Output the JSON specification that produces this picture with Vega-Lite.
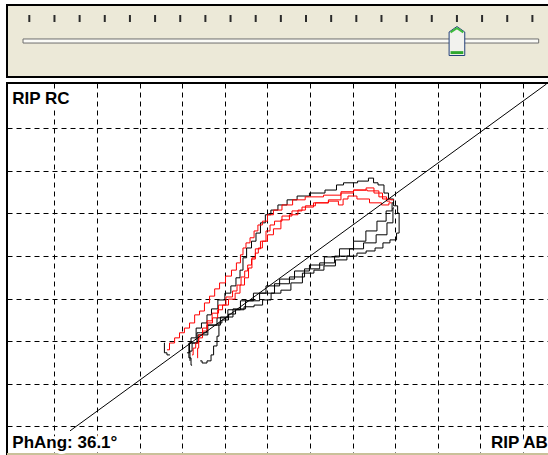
{
"$schema": "https://vega.github.io/schema/vega-lite/v6.json",
"background": "white",
"padding": {"left": 5, "top": 4, "right": 0, "bottom": 0},
"spacing": 4,
"config": {"view": {"stroke": null}, "font": "Liberation Sans"},
"datasets": {
"ticks": [{"pos":0},{"pos":1},{"pos":2},{"pos":3},{"pos":4},{"pos":5},{"pos":6},{"pos":7},{"pos":8},{"pos":9},{"pos":10},{"pos":11},{"pos":12},{"pos":13},{"pos":14},{"pos":15},{"pos":16},{"pos":17},{"pos":18},{"pos":19},{"pos":20}],
"loops": [
{"s":"D","x":2.59,"y":1.96},{"s":"D","x":2.57,"y":1.73},{"s":"D","x":2.71,"y":1.68},
{"s":"A","x":3.23,"y":1.44},{"s":"A","x":3.18,"y":1.61},{"s":"A","x":3.13,"y":1.96},{"s":"A","x":3.28,"y":2.08},{"s":"A","x":3.37,"y":2.31},{"s":"A","x":3.53,"y":2.43},{"s":"A","x":3.63,"y":2.62},{"s":"A","x":3.74,"y":2.76},{"s":"A","x":3.93,"y":2.97},{"s":"A","x":4.07,"y":3.13},{"s":"A","x":4.21,"y":3.30},{"s":"A","x":4.31,"y":3.49},{"s":"A","x":4.40,"y":3.67},{"s":"A","x":4.45,"y":3.96},{"s":"A","x":4.57,"y":4.19},{"s":"A","x":4.68,"y":4.35},{"s":"A","x":4.78,"y":4.54},{"s":"A","x":4.89,"y":4.78},{"s":"A","x":5.01,"y":4.97},{"s":"A","x":5.15,"y":5.08},{"s":"A","x":5.34,"y":5.20},{"s":"A","x":5.58,"y":5.32},{"s":"A","x":5.81,"y":5.41},{"s":"A","x":6.16,"y":5.48},{"s":"A","x":6.54,"y":5.55},{"s":"A","x":6.70,"y":5.67},{"s":"A","x":6.87,"y":5.72},{"s":"A","x":7.36,"y":5.76},{"s":"A","x":7.38,"y":5.83},{"s":"A","x":7.48,"y":5.83},{"s":"A","x":7.50,"y":5.72},{"s":"A","x":7.69,"y":5.67},{"s":"A","x":7.78,"y":5.48},{"s":"A","x":7.90,"y":5.34},{"s":"A","x":8.02,"y":5.18},{"s":"A","x":8.09,"y":5.01},{"s":"A","x":8.09,"y":4.54},{"s":"A","x":7.97,"y":4.38},{"s":"A","x":7.78,"y":4.31},{"s":"A","x":7.64,"y":4.19},{"s":"A","x":7.41,"y":4.12},{"s":"A","x":7.22,"y":4.07},{"s":"A","x":6.98,"y":4.00},{"s":"A","x":6.75,"y":3.91},{"s":"A","x":6.44,"y":3.77},{"s":"A","x":6.21,"y":3.67},{"s":"A","x":5.97,"y":3.60},{"s":"A","x":5.67,"y":3.37},{"s":"A","x":5.43,"y":3.20},{"s":"A","x":5.20,"y":3.13},{"s":"A","x":4.97,"y":2.97},{"s":"A","x":4.80,"y":2.85},{"s":"A","x":4.57,"y":2.81},{"s":"A","x":4.33,"y":2.74},{"s":"A","x":4.17,"y":2.64},{"s":"A","x":4.00,"y":2.50},{"s":"A","x":3.86,"y":2.43},{"s":"A","x":3.86,"y":2.12},{"s":"A","x":3.77,"y":1.89},{"s":"A","x":3.70,"y":1.68},{"s":"A","x":3.65,"y":1.54},{"s":"A","x":3.51,"y":1.49},{"s":"A","x":3.42,"y":1.54},
{"s":"B","x":3.11,"y":1.73},{"s":"B","x":3.23,"y":1.96},{"s":"B","x":3.46,"y":2.20},{"s":"B","x":3.70,"y":2.38},{"s":"B","x":3.93,"y":2.55},{"s":"B","x":4.21,"y":2.74},{"s":"B","x":4.52,"y":2.95},{"s":"B","x":4.82,"y":3.13},{"s":"B","x":5.11,"y":3.30},{"s":"B","x":5.46,"y":3.46},{"s":"B","x":5.81,"y":3.65},{"s":"B","x":6.16,"y":3.79},{"s":"B","x":6.51,"y":3.98},{"s":"B","x":6.87,"y":4.17},{"s":"B","x":7.17,"y":4.35},{"s":"B","x":7.45,"y":4.59},{"s":"B","x":7.69,"y":4.82},{"s":"B","x":7.88,"y":5.06},{"s":"B","x":7.97,"y":5.25},
{"s":"C","x":7.97,"y":5.13},{"s":"C","x":7.92,"y":4.78},{"s":"C","x":7.69,"y":4.50},{"s":"C","x":7.41,"y":4.31},{"s":"C","x":7.10,"y":4.17},{"s":"C","x":6.75,"y":4.00},{"s":"C","x":6.40,"y":3.84},{"s":"C","x":6.05,"y":3.70},{"s":"C","x":5.69,"y":3.51},{"s":"C","x":5.34,"y":3.35},{"s":"C","x":4.99,"y":3.13},{"s":"C","x":4.64,"y":2.95},{"s":"C","x":4.33,"y":2.76},{"s":"C","x":4.05,"y":2.57},{"s":"C","x":3.74,"y":2.38},{"s":"C","x":3.46,"y":2.15},{"s":"C","x":3.28,"y":1.96},{"s":"C","x":3.18,"y":1.77},{"s":"C","x":3.18,"y":1.54},
{"s":"R1","x":2.64,"y":1.80},{"s":"R1","x":2.76,"y":1.96},{"s":"R1","x":2.88,"y":2.08},{"s":"R1","x":2.99,"y":2.20},{"s":"R1","x":3.11,"y":2.31},{"s":"R1","x":3.23,"y":2.43},{"s":"R1","x":3.35,"y":2.62},{"s":"R1","x":3.46,"y":2.71},{"s":"R1","x":3.58,"y":2.90},{"s":"R1","x":3.70,"y":3.06},{"s":"R1","x":3.82,"y":3.23},{"s":"R1","x":3.93,"y":3.37},{"s":"R1","x":4.10,"y":3.53},{"s":"R1","x":4.21,"y":3.67},{"s":"R1","x":4.33,"y":3.84},{"s":"R1","x":4.40,"y":4.03},{"s":"R1","x":4.45,"y":4.19},{"s":"R1","x":4.54,"y":4.31},{"s":"R1","x":4.64,"y":4.43},{"s":"R1","x":4.73,"y":4.59},{"s":"R1","x":4.82,"y":4.73},{"s":"R1","x":4.94,"y":4.82},{"s":"R1","x":5.06,"y":4.97},{"s":"R1","x":5.22,"y":5.08},{"s":"R1","x":5.46,"y":5.20},{"s":"R1","x":5.72,"y":5.32},{"s":"R1","x":6.05,"y":5.39},{"s":"R1","x":6.58,"y":5.43},{"s":"R1","x":6.87,"y":5.51},{"s":"R1","x":7.17,"y":5.55},{"s":"R1","x":7.52,"y":5.53},{"s":"R1","x":7.71,"y":5.39},{"s":"R1","x":7.88,"y":5.29},
{"s":"R2","x":3.23,"y":1.68},{"s":"R2","x":3.28,"y":1.84},{"s":"R2","x":3.35,"y":1.96},{"s":"R2","x":3.42,"y":2.15},{"s":"R2","x":3.53,"y":2.31},{"s":"R2","x":3.63,"y":2.48},{"s":"R2","x":3.77,"y":2.66},{"s":"R2","x":3.93,"y":2.85},{"s":"R2","x":4.12,"y":3.04},{"s":"R2","x":4.24,"y":3.18},{"s":"R2","x":4.33,"y":3.32},{"s":"R2","x":4.43,"y":3.51},{"s":"R2","x":4.50,"y":3.65},{"s":"R2","x":4.57,"y":3.79},{"s":"R2","x":4.68,"y":3.93},{"s":"R2","x":4.75,"y":4.07},{"s":"R2","x":4.82,"y":4.19},{"s":"R2","x":4.94,"y":4.35},{"s":"R2","x":5.06,"y":4.50},{"s":"R2","x":5.22,"y":4.64},{"s":"R2","x":5.41,"y":4.85},{"s":"R2","x":5.62,"y":4.97},{"s":"R2","x":5.81,"y":5.08},{"s":"R2","x":5.97,"y":5.18},{"s":"R2","x":6.28,"y":5.25},{"s":"R2","x":6.58,"y":5.29},{"s":"R2","x":6.75,"y":5.20},{"s":"R2","x":6.80,"y":5.34},{"s":"R2","x":6.98,"y":5.41},{"s":"R2","x":7.22,"y":5.34},{"s":"R2","x":7.57,"y":5.25},{"s":"R2","x":7.78,"y":5.20},{"s":"R2","x":7.92,"y":5.25},
{"s":"R3","x":3.37,"y":1.61},{"s":"R3","x":3.35,"y":1.84},{"s":"R3","x":3.42,"y":2.08},{"s":"R3","x":3.53,"y":2.24},{"s":"R3","x":3.65,"y":2.43},{"s":"R3","x":3.77,"y":2.55},{"s":"R3","x":3.89,"y":2.74},{"s":"R3","x":4.00,"y":2.85},{"s":"R3","x":4.17,"y":2.99},{"s":"R3","x":4.31,"y":3.13},{"s":"R3","x":4.40,"y":3.32},{"s":"R3","x":4.52,"y":3.49},{"s":"R3","x":4.59,"y":3.72},{"s":"R3","x":4.68,"y":3.96},{"s":"R3","x":4.75,"y":4.17},{"s":"R3","x":4.92,"y":4.35},{"s":"R3","x":5.01,"y":4.59},{"s":"R3","x":5.11,"y":4.73},{"s":"R3","x":5.22,"y":4.82},{"s":"R3","x":5.46,"y":4.94},{"s":"R3","x":5.69,"y":5.06},{"s":"R3","x":5.93,"y":5.15},{"s":"R3","x":6.23,"y":5.25},{"s":"R3","x":6.63,"y":5.32},{"s":"R3","x":6.82,"y":5.48},{"s":"R3","x":7.22,"y":5.55},{"s":"R3","x":7.41,"y":5.60},{"s":"R3","x":7.59,"y":5.48},{"s":"R3","x":7.81,"y":5.34},{"s":"R3","x":7.97,"y":5.32}
]
},
"vconcat": [
{
"width": 543, "height": 72,
"view": {"fill": "#ECE9D8", "stroke": "#000000", "strokeWidth": 2},
"layer": [
{"data": {"name": "ticks"},
 "mark": {"type": "rule", "color": "#2b2b2b", "strokeWidth": 2},
 "encoding": {
  "x": {"field": "pos", "type": "quantitative", "scale": {"domain": [-0.887, 20.70], "nice": false, "zero": false}, "axis": null},
  "y": {"datum": 8.61, "type": "quantitative", "scale": {"domain": [0, 10], "nice": false}, "axis": null},
  "y2": {"datum": 7.64}}},
{"data": {"values": [{"part": "groove"}]},
 "mark": {"type": "rect", "fill": "#FBFBF7", "stroke": "#6E6E6E", "strokeWidth": 1},
 "encoding": {"x": {"datum": -0.25}, "x2": {"datum": 20.25}, "y": {"datum": 5.28}, "y2": {"datum": 4.72}}},
{"data": {"values": [{"value": 17}]},
 "layer": [
  {"mark": {"type": "point", "shape": "M0,-1L0.54,-0.62L0.54,1L-0.54,1L-0.54,-0.62Z", "size": 841, "filled": true, "fill": "#F2F2EE", "stroke": "#23407A", "strokeWidth": 1, "opacity": 1},
   "encoding": {"x": {"field": "value", "type": "quantitative"}, "y": {"datum": 5.0}}},
  {"mark": {"type": "point", "shape": "M-0.44,0.7L0.44,0.7L0.44,0.9L-0.44,0.9Z", "size": 841, "filled": true, "fill": "#2FA82F", "strokeWidth": 0, "opacity": 1},
   "encoding": {"x": {"field": "value", "type": "quantitative"}, "y": {"datum": 5.0}}},
  {"mark": {"type": "point", "shape": "M-0.44,-0.6L0,-0.88L0.44,-0.6", "size": 841, "filled": false, "stroke": "#3DBB3D", "strokeWidth": 2, "opacity": 1},
   "encoding": {"x": {"field": "value", "type": "quantitative"}, "y": {"datum": 5.0}}}
 ]}
]
},
{
"width": 543, "height": 371,
"view": {"fill": "white", "stroke": "#000000", "strokeWidth": 2},
"layer": [
{"data": {"name": "loops"},
 "transform": [{"window": [{"op": "row_number", "as": "i"}]}],
 "mark": {"type": "line", "interpolate": "step", "strokeWidth": 1, "clip": true},
 "encoding": {
  "x": {"field": "x", "type": "quantitative", "scale": {"domain": [-1.115, 11.632], "nice": false, "zero": false},
        "axis": {"values": [0,1,2,3,4,5,6,7,8,9,10,11], "grid": true, "gridDash": [5, 4], "gridColor": "#000000", "gridOpacity": 1, "gridWidth": 1, "labels": false, "ticks": false, "domain": false, "title": null}},
  "y": {"field": "y", "type": "quantitative", "scale": {"domain": [-0.646, 8.063], "nice": false, "zero": false},
        "axis": {"values": [0,1,2,3,4,5,6,7], "grid": true, "gridDash": [5, 4], "gridColor": "#000000", "gridOpacity": 1, "gridWidth": 1, "labels": false, "ticks": false, "domain": false, "title": null}},
  "color": {"field": "s", "type": "nominal", "scale": {"domain": ["A","B","C","D","R1","R2","R3"], "range": ["#000000","#000000","#000000","#000000","#FF0000","#FF0000","#FF0000"]}, "legend": null},
  "order": {"field": "i", "type": "quantitative"}}},
{"data": {"values": [{"x": 0.364, "y": -0.103}, {"x": 11.55, "y": 8.04}]},
 "mark": {"type": "line", "color": "#000000", "strokeWidth": 1, "clip": true},
 "encoding": {"x": {"field": "x", "type": "quantitative"}, "y": {"field": "y", "type": "quantitative"}}},
{"data": {"values": [{"edge": "bottom"}]},
 "mark": {"type": "rule", "color": "#C9C19A", "strokeWidth": 2},
 "encoding": {"x": {"datum": -1.115}, "x2": {"datum": 11.632}, "y": {"datum": -0.646}}},
{"data": {"values": [{"label": "RIP RC"}]},
 "encoding": {"x": {"datum": -0.99}, "y": {"datum": 7.57}, "text": {"field": "label"}},
 "layer": [
  {"mark": {"type": "text", "align": "left", "baseline": "alphabetic", "font": "Liberation Sans", "fontWeight": "bold", "fontSize": 17, "stroke": "white", "strokeWidth": 6, "strokeJoin": "round", "fill": "white"}},
  {"mark": {"type": "text", "align": "left", "baseline": "alphabetic", "font": "Liberation Sans", "fontWeight": "bold", "fontSize": 17, "fill": "#000000"}}
 ]},
{"data": {"values": [{"label": "PhAng: 36.1°"}]},
 "encoding": {"x": {"datum": -0.99}, "y": {"datum": -0.5}, "text": {"field": "label"}},
 "layer": [
  {"mark": {"type": "text", "align": "left", "baseline": "alphabetic", "font": "Liberation Sans", "fontWeight": "bold", "fontSize": 17, "stroke": "white", "strokeWidth": 6, "strokeJoin": "round", "fill": "white"}},
  {"mark": {"type": "text", "align": "left", "baseline": "alphabetic", "font": "Liberation Sans", "fontWeight": "bold", "fontSize": 17, "fill": "#000000"}}
 ]},
{"data": {"values": [{"label": "RIP AB"}]},
 "encoding": {"x": {"datum": 11.58}, "y": {"datum": -0.5}, "text": {"field": "label"}},
 "layer": [
  {"mark": {"type": "text", "align": "right", "baseline": "alphabetic", "font": "Liberation Sans", "fontWeight": "bold", "fontSize": 17, "stroke": "white", "strokeWidth": 6, "strokeJoin": "round", "fill": "white"}},
  {"mark": {"type": "text", "align": "right", "baseline": "alphabetic", "font": "Liberation Sans", "fontWeight": "bold", "fontSize": 17, "fill": "#000000"}}
 ]}
]
}
]
}
